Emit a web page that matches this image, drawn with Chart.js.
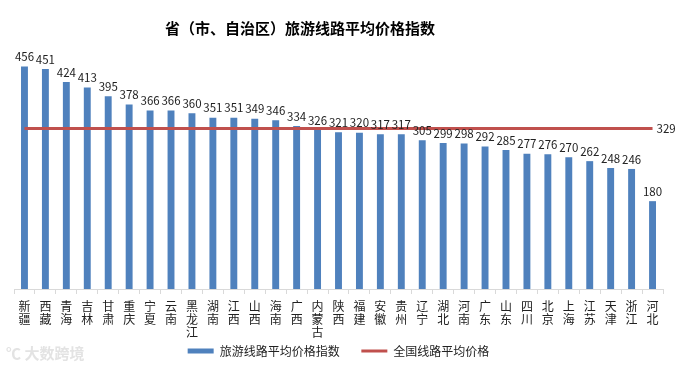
<!DOCTYPE html>
<html>
<head>
<meta charset="utf-8">
<script src="https://cdn.jsdelivr.net/npm/chart.js@4/dist/chart.umd.min.js"></script>
<style>
  html, body { margin: 0; padding: 0; background: #fff; }
  #wrap { width: 676px; height: 371px; position: relative; }
</style>
</head>
<body>
<div id="wrap"><canvas id="chart"></canvas></div>
<script>
// --- data ---
const provinces = ['新疆', '西藏', '青海', '吉林', '甘肃', '重庆', '宁夏', '云南', '黑龙江', '湖南', '江西', '山西', '海南', '广西', '内蒙古',
    '陕西', '福建', '安徽', '贵州', '辽宁', '湖北', '河南', '广东', '山东', '四川', '北京', '上海', '江苏', '天津', '浙江', '河北'];
const routeIndex = [456, 451, 424, 413, 395, 378, 366, 366, 360, 351, 351, 349, 346, 334, 326,
    321, 320, 317, 317, 305, 299, 298, 292, 285, 277, 276, 270, 262, 248, 246, 180];
const nationalAvg = 329;
const titleText = '省（市、自治区）旅游线路平均价格指数';
const barName = '旅游线路平均价格指数';
const lineName = '全国线路平均价格';

const FONT = '"Noto Sans CJK SC", "Noto Sans", sans-serif';

// stack characters vertically, one per line
const stacked = (s) => Array.from(s);

// --- title, watermark and value labels ---
const decorPlugin = {
    id: 'decor',
    afterDraw(chart) {
        const ctx = chart.ctx;
        ctx.save();
        ctx.fillStyle = '#000';
        ctx.font = `bold 15px ${FONT}`;
        ctx.textAlign = 'center';
        ctx.textBaseline = 'middle';
        ctx.fillText(titleText, 300, 28);

        ctx.fillStyle = '#e3e3e3';
        ctx.font = `bold 15px ${FONT}`;
        ctx.textAlign = 'left';
        ctx.fillText('℃ 大数跨境', 6, 353);

        // bar values
        ctx.fillStyle = '#222';
        ctx.font = `11.5px ${FONT}`;
        ctx.textAlign = 'center';
        ctx.textBaseline = 'bottom';
        chart.getDatasetMeta(0).data.forEach((bar, i) => {
            ctx.fillText(String(routeIndex[i]), bar.x, bar.y - 4);
        });

        // national average, only at the right end
        const pts = chart.getDatasetMeta(1).data;
        const last = pts[pts.length - 1];
        ctx.textAlign = 'left';
        ctx.textBaseline = 'middle';
        ctx.fillText(String(nationalAvg), last.x + 4, last.y);
        ctx.restore();
    }
};

const ctx = document.getElementById('chart').getContext('2d');
new Chart(ctx, {
    type: 'bar',
    data: {
        labels: provinces.map(stacked),
        datasets: [
            {
                type: 'bar',
                label: barName + '\u3000 ',
                data: routeIndex,
                backgroundColor: '#4f81bd',
                barPercentage: 0.33,
                categoryPercentage: 1,
                pointStyle: 'rect',
                order: 1
            },
            {
                type: 'line',
                label: lineName,
                data: provinces.map(() => nationalAvg),
                borderColor: '#c0504d',
                backgroundColor: '#c0504d',
                borderWidth: 3,
                pointRadius: 0,
                pointStyle: 'line',
                order: 0
            }
        ]
    },
    options: {
        responsive: true,
        maintainAspectRatio: false,
        animation: false,
        layout: { padding: { top: 45, left: 14, right: 13, bottom: 4 } },
        scales: {
            x: {
                afterFit: (scale) => { scale.height = 49; },
                grid: { display: true, drawOnChartArea: false, tickLength: 5, color: '#d9d9d9', offset: true },
                border: { color: '#d9d9d9' },
                ticks: {
                    maxRotation: 0, autoSkip: false, padding: 6, color: '#222',
                    font: { family: FONT, size: 12, lineHeight: 1.08 }
                }
            },
            y: { display: false, min: 0, max: 500 }
        },
        plugins: {
            legend: {
                position: 'bottom',
                labels: {
                    usePointStyle: true,
                    pointStyleWidth: 26,
                    boxHeight: 5,
                    padding: 7,
                    color: '#222',
                    font: { family: FONT, size: 12 },
                    sort: (a, b) => a.datasetIndex - b.datasetIndex
                }
            },
            tooltip: { enabled: false }
        }
    },
    plugins: [decorPlugin]
});
</script>
</body>
</html>
